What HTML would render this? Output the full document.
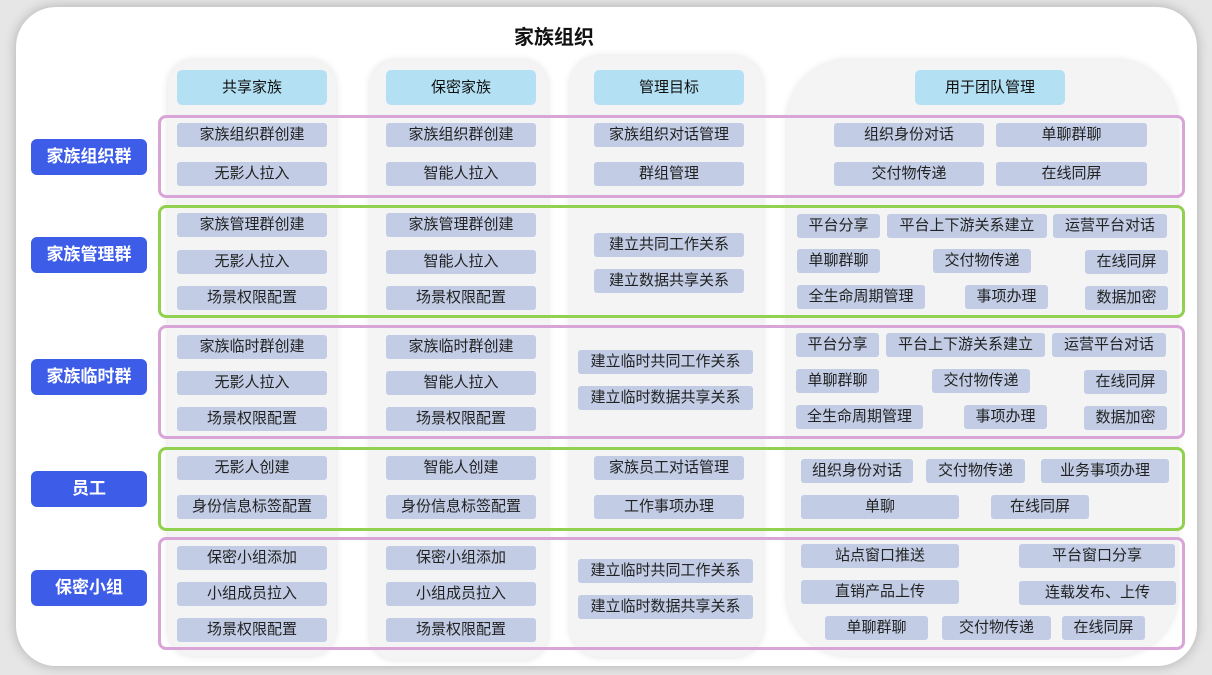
<!DOCTYPE html>
<html><head><meta charset="utf-8"><style>
*{margin:0;padding:0;box-sizing:border-box}
body{width:1212px;height:675px;background:#e6e6e6;position:relative;overflow:hidden;font-family:"Liberation Sans","Noto Sans CJK SC",sans-serif}
.card{position:absolute;left:16px;top:7px;width:1181px;height:659px;background:#fff;border-radius:40px;box-shadow:0 0 12px rgba(0,0,0,.25)}
.col{position:absolute;background:#f4f4f4;box-shadow:0 0 8px rgba(0,0,0,.12)}
.h{position:absolute;height:35px;background:#b3e0f2;border-radius:5px;font-size:15px;line-height:35px;text-align:center;color:#111}
.band{position:absolute;left:158px;width:1027px;border:3px solid;border-radius:8px}
.p{border-color:#d9a5d8}.g{border-color:#92d050}
.l{position:absolute;left:31px;width:116px;height:36px;background:#3d5ce8;border-radius:6px;color:#fff;font-weight:bold;font-size:17px;line-height:36px;text-align:center}
.c{position:absolute;height:24px;background:#c2cde5;border-radius:3px;font-size:15px;line-height:24px;text-align:center;color:#222;white-space:nowrap}
.t{position:absolute;left:514px;top:21px;font-size:20px;font-weight:bold;color:#111}
</style></head><body>
<div class="card"></div>
<div class="t">家族组织</div>
<div class="col" style="left:168px;top:60px;width:168px;height:596px;border-radius:26px"></div>
<div class="col" style="left:370px;top:60px;width:178px;height:600px;border-radius:26px"></div>
<div class="col" style="left:570px;top:56px;width:193px;height:601px;border-radius:30px"></div>
<div class="col" style="left:787px;top:60px;width:390px;height:596px;border-radius:62px"></div>
<div class="h" style="left:177px;top:70px;width:150px">共享家族</div>
<div class="h" style="left:386px;top:70px;width:150px">保密家族</div>
<div class="h" style="left:594px;top:70px;width:150px">管理目标</div>
<div class="h" style="left:915px;top:70px;width:150px">用于团队管理</div>
<div class="band p" style="top:115px;height:83px"></div>
<div class="band g" style="top:205px;height:113px"></div>
<div class="band p" style="top:325px;height:114px"></div>
<div class="band g" style="top:447px;height:84px"></div>
<div class="band p" style="top:537px;height:113px"></div>
<div class="l" style="top:139px">家族组织群</div>
<div class="l" style="top:237px">家族管理群</div>
<div class="l" style="top:359px">家族临时群</div>
<div class="l" style="top:471px">员工</div>
<div class="l" style="top:570px">保密小组</div>
<!-- row1 -->
<div class="c" style="left:177px;top:123px;width:150px">家族组织群创建</div>
<div class="c" style="left:177px;top:162px;width:150px">无影人拉入</div>
<div class="c" style="left:386px;top:123px;width:150px">家族组织群创建</div>
<div class="c" style="left:386px;top:162px;width:150px">智能人拉入</div>
<div class="c" style="left:594px;top:123px;width:150px">家族组织对话管理</div>
<div class="c" style="left:594px;top:162px;width:150px">群组管理</div>
<div class="c" style="left:834px;top:123px;width:150px">组织身份对话</div>
<div class="c" style="left:996px;top:123px;width:151px">单聊群聊</div>
<div class="c" style="left:834px;top:162px;width:150px">交付物传递</div>
<div class="c" style="left:996px;top:162px;width:151px">在线同屏</div>
<!-- row2 -->
<div class="c" style="left:177px;top:213px;width:150px">家族管理群创建</div>
<div class="c" style="left:177px;top:250px;width:150px">无影人拉入</div>
<div class="c" style="left:177px;top:286px;width:150px">场景权限配置</div>
<div class="c" style="left:386px;top:213px;width:150px">家族管理群创建</div>
<div class="c" style="left:386px;top:250px;width:150px">智能人拉入</div>
<div class="c" style="left:386px;top:286px;width:150px">场景权限配置</div>
<div class="c" style="left:594px;top:233px;width:150px">建立共同工作关系</div>
<div class="c" style="left:594px;top:269px;width:150px">建立数据共享关系</div>
<div class="c" style="left:797px;top:214px;width:83px">平台分享</div>
<div class="c" style="left:887px;top:214px;width:160px">平台上下游关系建立</div>
<div class="c" style="left:1053px;top:214px;width:114px">运营平台对话</div>
<div class="c" style="left:797px;top:249px;width:83px">单聊群聊</div>
<div class="c" style="left:933px;top:249px;width:98px">交付物传递</div>
<div class="c" style="left:1085px;top:250px;width:83px">在线同屏</div>
<div class="c" style="left:797px;top:285px;width:128px">全生命周期管理</div>
<div class="c" style="left:965px;top:285px;width:83px">事项办理</div>
<div class="c" style="left:1085px;top:286px;width:83px">数据加密</div>
<!-- row3 -->
<div class="c" style="left:177px;top:335px;width:150px">家族临时群创建</div>
<div class="c" style="left:177px;top:371px;width:150px">无影人拉入</div>
<div class="c" style="left:177px;top:407px;width:150px">场景权限配置</div>
<div class="c" style="left:386px;top:335px;width:150px">家族临时群创建</div>
<div class="c" style="left:386px;top:371px;width:150px">智能人拉入</div>
<div class="c" style="left:386px;top:407px;width:150px">场景权限配置</div>
<div class="c" style="left:578px;top:350px;width:175px">建立临时共同工作关系</div>
<div class="c" style="left:578px;top:386px;width:175px">建立临时数据共享关系</div>
<div class="c" style="left:796px;top:333px;width:83px">平台分享</div>
<div class="c" style="left:886px;top:333px;width:159px">平台上下游关系建立</div>
<div class="c" style="left:1052px;top:333px;width:114px">运营平台对话</div>
<div class="c" style="left:796px;top:369px;width:83px">单聊群聊</div>
<div class="c" style="left:932px;top:369px;width:98px">交付物传递</div>
<div class="c" style="left:1084px;top:370px;width:83px">在线同屏</div>
<div class="c" style="left:796px;top:405px;width:127px">全生命周期管理</div>
<div class="c" style="left:964px;top:405px;width:83px">事项办理</div>
<div class="c" style="left:1084px;top:406px;width:83px">数据加密</div>
<!-- row4 -->
<div class="c" style="left:177px;top:456px;width:150px">无影人创建</div>
<div class="c" style="left:177px;top:495px;width:150px">身份信息标签配置</div>
<div class="c" style="left:386px;top:456px;width:150px">智能人创建</div>
<div class="c" style="left:386px;top:495px;width:150px">身份信息标签配置</div>
<div class="c" style="left:594px;top:456px;width:150px">家族员工对话管理</div>
<div class="c" style="left:594px;top:495px;width:150px">工作事项办理</div>
<div class="c" style="left:801px;top:459px;width:112px">组织身份对话</div>
<div class="c" style="left:926px;top:459px;width:99px">交付物传递</div>
<div class="c" style="left:1041px;top:459px;width:128px">业务事项办理</div>
<div class="c" style="left:801px;top:495px;width:158px">单聊</div>
<div class="c" style="left:991px;top:495px;width:98px">在线同屏</div>
<!-- row5 -->
<div class="c" style="left:177px;top:546px;width:150px">保密小组添加</div>
<div class="c" style="left:177px;top:582px;width:150px">小组成员拉入</div>
<div class="c" style="left:177px;top:618px;width:150px">场景权限配置</div>
<div class="c" style="left:386px;top:546px;width:150px">保密小组添加</div>
<div class="c" style="left:386px;top:582px;width:150px">小组成员拉入</div>
<div class="c" style="left:386px;top:618px;width:150px">场景权限配置</div>
<div class="c" style="left:578px;top:559px;width:175px">建立临时共同工作关系</div>
<div class="c" style="left:578px;top:595px;width:175px">建立临时数据共享关系</div>
<div class="c" style="left:801px;top:544px;width:158px">站点窗口推送</div>
<div class="c" style="left:1019px;top:544px;width:156px">平台窗口分享</div>
<div class="c" style="left:801px;top:580px;width:158px">直销产品上传</div>
<div class="c" style="left:1019px;top:581px;width:157px">连载发布、上传</div>
<div class="c" style="left:825px;top:616px;width:103px">单聊群聊</div>
<div class="c" style="left:942px;top:616px;width:109px">交付物传递</div>
<div class="c" style="left:1062px;top:616px;width:83px">在线同屏</div>
</body></html>
